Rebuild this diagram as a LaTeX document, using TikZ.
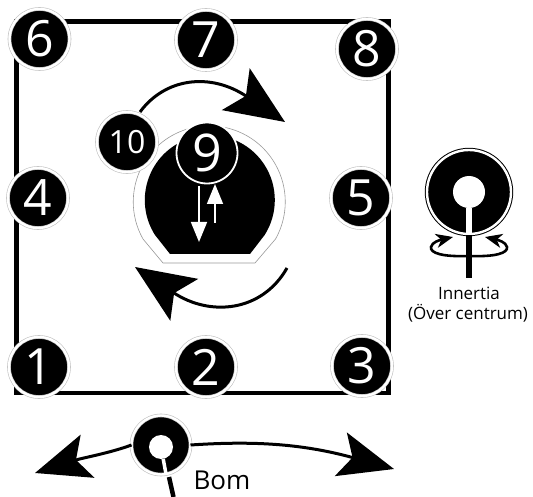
\documentclass[tikz,border=0pt]{standalone}
\usepackage{fontspec}
\setmainfont{Open Sans}
\usetikzlibrary{arrows.meta}
\tikzset{
  num/.style={circle,inner sep=0pt,outer sep=0pt,minimum size=60pt,fill=black,text=white,
    draw=black!25,line width=.6pt,double=white,double distance=2.4pt,
    font=\fontsize{50}{50}\selectfont},
  numsmall/.style={num,font=\fontsize{32}{32}\selectfont},
  ringnum/.style={circle,inner sep=0pt,outer sep=0pt,minimum size=61pt,fill=black,text=white,
    draw=white,line width=1.8pt,font=\fontsize{52}{52}\selectfont},
  hub/.style={num,font=\normalsize},
  hole/.style={circle,fill=white,draw=none,inner sep=0pt,outer sep=0pt},
  bigarrow/.style={line width=3pt,-{Stealth[length=59pt,width=50pt,inset=12pt]}},
  medarrow/.style={line width=3pt,-{Stealth[length=55pt,width=45pt,inset=12pt]}},
  smallarrow/.style={line width=2.6pt,-{Stealth[length=17pt,width=14pt,inset=5pt]}},
  whitearrow/.style={white,line width=1.6pt,-{Stealth[length=20pt,width=16pt,inset=0pt]}},
  label/.style={text=black,inner sep=0pt},
}
\begin{document}
\begin{tikzpicture}[x=1pt,y=-1pt]
\useasboundingbox (0,0) rectangle (533,497);
% frame
\coordinate (tl) at (16.5,21.5);
\coordinate (br) at (388.5,393);
\draw[line width=4.5pt,line join=miter] (tl) rectangle (br);
% central shape
\draw[black!40,line width=.6pt,fill=white] (163,263) -- (143,239)
  arc[start angle=150.7,end angle=389.3,radius=76] -- (255,263) -- cycle;
\fill[black] (170,254) -- (155,235)
  arc[start angle=147.5,end angle=392.5,radius=65] -- (250,254) -- cycle;
% numbered nodes
\node[num] (n6) at (39.5,39) {6};
\node[num] (n7) at (206,40) {7};
\node[num] (n8) at (367,49) {8};
\node[num] (n4) at (38,198) {4};
\node[num] (n5) at (361,198) {5};
\node[num] (n1) at (39,367) {1};
\node[num] (n2) at (206,367) {2};
\node[num] (n3) at (362,366) {3};
\node[numsmall] (n10) at (127,142) {10};
\node[ringnum] (n9) at (207,153) {9};
% arrows inside
\coordinate (downS) at (199,186);
\coordinate (downE) at (199,242);
\coordinate (upS) at (215,223);
\coordinate (upE) at (215,184);
\draw[whitearrow] (downS) -- (downE);
\draw[whitearrow] (upS) -- (upE);
% rotation arrows
\coordinate (topS) at (140,112);
\coordinate (topE) at (285,122);
\draw[bigarrow] (topS) .. controls (165,78) and (210,72) .. (topE);
\coordinate (botS) at (287,268);
\coordinate (botE) at (135,267);
\draw[bigarrow] (botS) .. controls (262,312) and (210,317) .. (botE);
% inertia symbol
\coordinate (stemE) at (469,278);
\node[hub,minimum size=84pt,draw=black,line width=1pt,double distance=2.4pt] (inert) at (469,192) {};
\node[hole,minimum size=32pt] (inertHole) at (469,192) {};
\draw[white,line width=5.5pt] (inertHole) -- (inert.south);
\draw[line width=6pt] (inert.south) ++(0,1) -- (stemE);
\coordinate (eC) at (469,256);
\coordinate (eL) at (453,237);
\coordinate (eR) at (485,237);
\draw[smallarrow] (eC) .. controls (442,257) and (430,253) .. (431,247)
  .. controls (432,242) and (440,240) .. (eL);
\draw[smallarrow] (eC) .. controls (496,257) and (508,253) .. (507,247)
  .. controls (506,242) and (498,240) .. (eR);
\node[label,font=\fontsize{17}{17}\selectfont] (inertT) at (469,293) {Innertia};
\node[label,font=\fontsize{17}{17}\selectfont] (inertU) at (468,313) {(Över centrum)};
% boom symbol
\coordinate (bomL) at (35,473);
\coordinate (bomR) at (394,469);
\coordinate (bomStemA) at (169,477);
\coordinate (bomStemB) at (173.5,497);
\node[hub,minimum size=59pt] (bom) at (161,445) {};
\node[hole,minimum size=24pt] (bomHole) at (161,447) {};
\draw[white,line width=3.5pt] (bomHole) -- (166,474);
\draw[line width=4.5pt] (bomStemA) -- (bomStemB);
\draw[medarrow] (bom.west) .. controls (110,453) and (82,458) .. (bomL);
\draw[medarrow] (bom.east) .. controls (250,441) and (300,443) .. (bomR);
\node[label,font=\fontsize{26}{26}\selectfont] (bomT) at (222,480) {Bom};
\end{tikzpicture}
\end{document}
